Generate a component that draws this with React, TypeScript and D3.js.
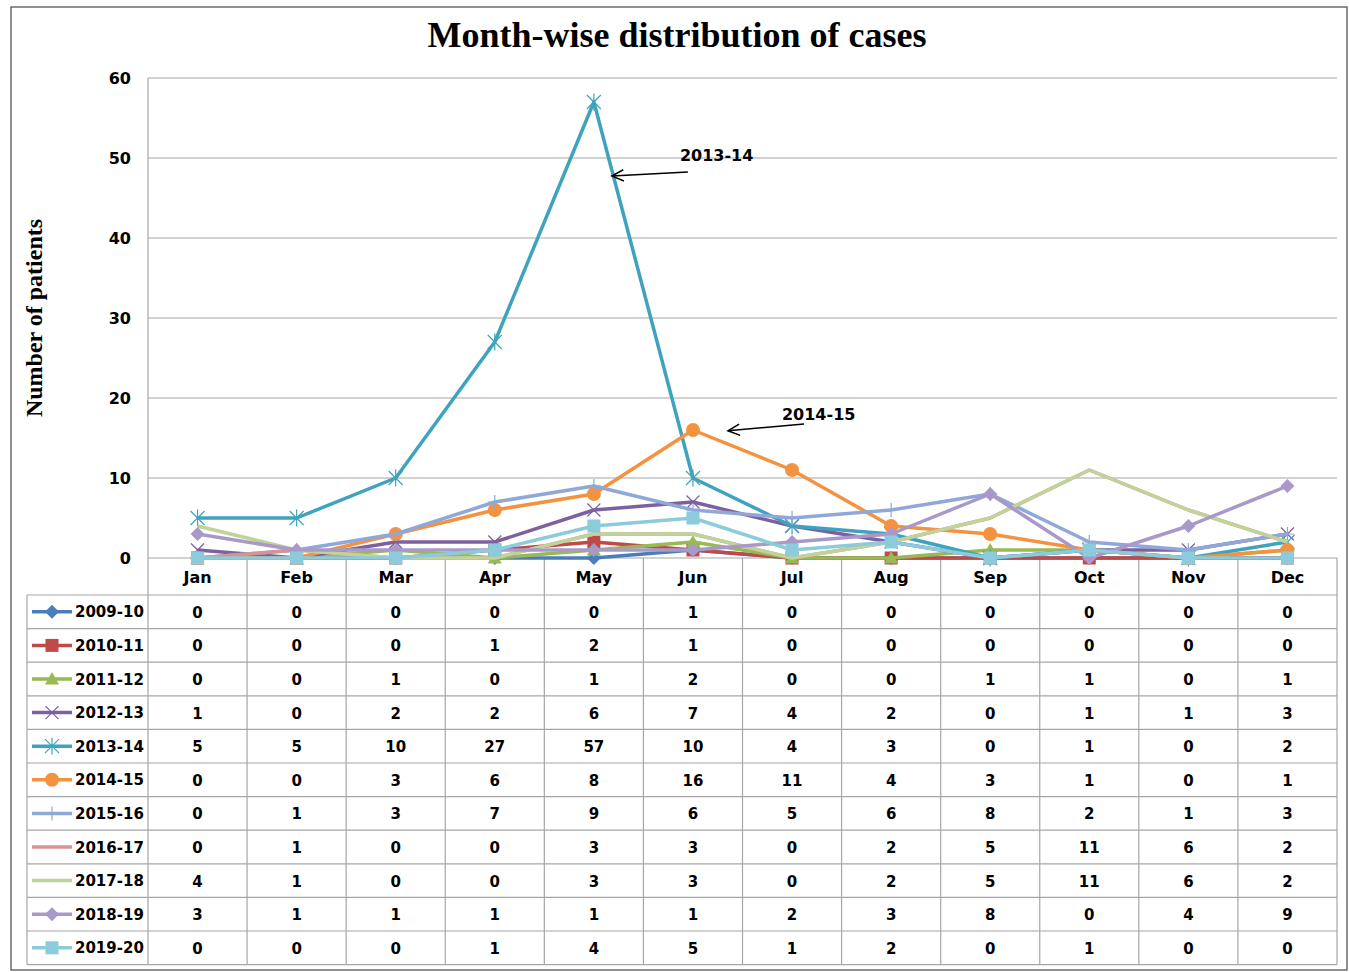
import React from "react";
import * as d3 from "d3";

const months = ["Jan", "Feb", "Mar", "Apr", "May", "Jun", "Jul", "Aug", "Sep", "Oct", "Nov", "Dec"];
const yTicks = [0, 10, 20, 30, 40, 50, 60];

const seriesNames = ["2009-10", "2010-11", "2011-12", "2012-13", "2013-14", "2014-15", "2015-16", "2016-17", "2017-18", "2018-19", "2019-20"];
const v2009 = [0, 0, 0, 0, 0, 1, 0, 0, 0, 0, 0, 0];
const v2010 = [0, 0, 0, 1, 2, 1, 0, 0, 0, 0, 0, 0];
const v2011 = [0, 0, 1, 0, 1, 2, 0, 0, 1, 1, 0, 1];
const v2012 = [1, 0, 2, 2, 6, 7, 4, 2, 0, 1, 1, 3];
const v2013 = [5, 5, 10, 27, 57, 10, 4, 3, 0, 1, 0, 2];
const v2014 = [0, 0, 3, 6, 8, 16, 11, 4, 3, 1, 0, 1];
const v2015 = [0, 1, 3, 7, 9, 6, 5, 6, 8, 2, 1, 3];
const v2016 = [0, 1, 0, 0, 3, 3, 0, 2, 5, 11, 6, 2];
const v2017 = [4, 1, 0, 0, 3, 3, 0, 2, 5, 11, 6, 2];
const v2018 = [3, 1, 1, 1, 1, 1, 2, 3, 8, 0, 4, 9];
const v2019 = [0, 0, 0, 1, 4, 5, 1, 2, 0, 1, 0, 0];
const seriesValues = [v2009, v2010, v2011, v2012, v2013, v2014, v2015, v2016, v2017, v2018, v2019];

const colors = ["#4A7EBB", "#BE4B48", "#98B954", "#7D60A0", "#3FA3BD", "#F59240", "#8FA8D8", "#D69391", "#BFD39A", "#A999C8", "#8CCBDB"];
const markers = ["diamond", "square", "triangle", "x", "asterisk", "circle", "plus", "none", "none", "diamond", "square"];

// annotations: label, month, pixel offset, value for tip / tail / text
const annotations = [
  { label: "2013-14", month: "May", tipDx: 18, tipV: 47.75, tailDx: 94, tailV: 48.25, textDx: 86, textV: 49.6 },
  { label: "2014-15", month: "Jun", tipDx: 35, tipV: 15.9, tailDx: 111, tailV: 16.75, textDx: 89, textV: 17.2 },
];

const sans = "'DejaVu Sans', Verdana, sans-serif";
const serif = "'Liberation Serif', 'Times New Roman', serif";
const gridColor = "#A6A6A6";

function Marker({ kind, x, y, color }: { kind: string; x: number; y: number; color: string }) {
  if (kind === "none") return null;
  if (kind === "diamond") {
    const s = 7;
    return <path d={`M${x},${y - s}L${x + s},${y}L${x},${y + s}L${x - s},${y}Z`} fill={color} />;
  }
  if (kind === "square") return <rect x={x - 6.5} y={y - 6.5} width={13} height={13} fill={color} />;
  if (kind === "triangle") {
    const s = 7;
    return <path d={`M${x},${y - s}L${x + s},${y + s * 0.8}L${x - s},${y + s * 0.8}Z`} fill={color} />;
  }
  if (kind === "circle") return <circle cx={x} cy={y} r={7} fill={color} />;
  if (kind === "x") {
    const s = 6.5;
    return <path d={`M${x - s},${y - s}L${x + s},${y + s}M${x - s},${y + s}L${x + s},${y - s}`} stroke={color} strokeWidth={1.2} />;
  }
  if (kind === "asterisk") {
    const s = 7;
    return (
      <path
        d={`M${x - s},${y - s}L${x + s},${y + s}M${x - s},${y + s}L${x + s},${y - s}M${x},${y - s * 1.2}L${x},${y + s * 1.2}`}
        stroke={color}
        strokeWidth={1.2}
      />
    );
  }
  if (kind === "plus") {
    const s = 7;
    return <path d={`M${x},${y - s}L${x},${y + s}M${x - s},${y}L${x + s},${y}`} stroke={color} strokeWidth={1.2} />;
  }
  return null;
}

export default function App() {
  const width = 1349;
  const height = 972;
  const plotLeft = 148;
  const plotRight = 1337;
  const plotTop = 78;
  const plotBottom = 558;
  const headerH = 37;
  const rowH = 33.6;
  const tableLeft = 27;

  const x = d3.scaleBand().domain(months).range([plotLeft, plotRight]).padding(0);
  const cx = (m: string) => (x(m) as number) + x.bandwidth() / 2;
  const y = d3.scaleLinear().domain([0, 60]).range([plotBottom, plotTop]);

  const line = d3
    .line<number>()
    .x((d, i) => cx(months[i]))
    .y((d) => y(d));

  const tableTop = plotBottom + headerH;
  const tableBottom = tableTop + rowH * seriesNames.length;
  const colEdges = months.map((m) => x(m) as number).concat([plotRight]);

  return (
    <svg width={width} height={height} style={{ position: "absolute", left: 0, top: 0 }}>
      <rect x={0} y={0} width={width} height={height} fill="#fff" />
      <rect x={11} y={7} width={1336} height={963} fill="none" stroke="#555" strokeWidth={1.3} />

      <text x={677} y={47} textAnchor="middle" fontFamily={serif} fontWeight="bold" fontSize={36} fill="#000">
        Month-wise distribution of cases
      </text>

      <text
        transform={`translate(42,${(plotTop + plotBottom) / 2}) rotate(-90)`}
        textAnchor="middle"
        fontFamily={serif}
        fontWeight="bold"
        fontSize={24}
        fill="#000"
      >
        Number of patients
      </text>

      {/* grid + y axis */}
      {yTicks.map((t) => (
        <g key={t}>
          <line x1={plotLeft} x2={plotRight} y1={y(t)} y2={y(t)} stroke={gridColor} strokeWidth={1.2} />
          <text x={131} y={y(t) + 6} textAnchor="end" fontFamily={sans} fontWeight="bold" fontSize={16} fill="#000">
            {t}
          </text>
        </g>
      ))}
      <line x1={plotLeft} x2={plotLeft} y1={plotTop} y2={plotBottom} stroke={gridColor} strokeWidth={1.2} />

      {/* data table */}
      {colEdges.map((e, i) => (
        <line key={"c" + i} x1={e} x2={e} y1={plotBottom} y2={tableBottom} stroke={gridColor} strokeWidth={1.2} />
      ))}
      <line x1={tableLeft} x2={tableLeft} y1={tableTop} y2={tableBottom} stroke={gridColor} strokeWidth={1.2} />
      {d3.range(seriesNames.length + 1).map((i) => (
        <line
          key={"r" + i}
          x1={tableLeft}
          x2={plotRight}
          y1={tableTop + i * rowH}
          y2={tableTop + i * rowH}
          stroke={gridColor}
          strokeWidth={1.2}
        />
      ))}
      {months.map((m) => (
        <text key={m} x={cx(m)} y={plotBottom + 25} textAnchor="middle" fontFamily={sans} fontWeight="bold" fontSize={16} fill="#000">
          {m}
        </text>
      ))}
      {seriesNames.map((name, si) => {
        const rowY = tableTop + si * rowH + rowH / 2;
        return (
          <g key={name}>
            <line x1={32} x2={72} y1={rowY} y2={rowY} stroke={colors[si]} strokeWidth={3.5} />
            <Marker kind={markers[si]} x={52} y={rowY} color={colors[si]} />
            <text x={75} y={rowY + 5.5} fontFamily={sans} fontWeight="bold" fontSize={15} fill="#000">
              {name}
            </text>
            {seriesValues[si].map((v, i) => (
              <text
                key={i}
                x={cx(months[i])}
                y={rowY + 6}
                textAnchor="middle"
                fontFamily={sans}
                fontWeight="bold"
                fontSize={15}
                fill="#000"
              >
                {v}
              </text>
            ))}
          </g>
        );
      })}

      {/* series */}
      {seriesNames.map((name, si) => (
        <g key={"s" + name}>
          <path d={line(seriesValues[si]) as string} fill="none" stroke={colors[si]} strokeWidth={3.5} strokeLinejoin="round" />
          {seriesValues[si].map((v, i) => (
            <Marker key={i} kind={markers[si]} x={cx(months[i])} y={y(v)} color={colors[si]} />
          ))}
        </g>
      ))}

      {/* annotations */}
      {annotations.map((a) => {
        const tx = cx(a.month) + a.tipDx;
        const ty = y(a.tipV);
        const sx = cx(a.month) + a.tailDx;
        const sy = y(a.tailV);
        const ang = Math.atan2(sy - ty, sx - tx);
        const hl = 13;
        const spread = 0.45;
        const h1x = tx + hl * Math.cos(ang + spread);
        const h1y = ty + hl * Math.sin(ang + spread);
        const h2x = tx + hl * Math.cos(ang - spread);
        const h2y = ty + hl * Math.sin(ang - spread);
        return (
          <g key={a.label}>
            <line x1={sx} y1={sy} x2={tx} y2={ty} stroke="#000" strokeWidth={1.5} />
            <path d={`M${h1x},${h1y}L${tx},${ty}L${h2x},${h2y}`} fill="none" stroke="#000" strokeWidth={1.5} />
            <text x={cx(a.month) + a.textDx} y={y(a.textV)} fontFamily={sans} fontWeight="bold" fontSize={16} fill="#000">
              {a.label}
            </text>
          </g>
        );
      })}
    </svg>
  );
}
